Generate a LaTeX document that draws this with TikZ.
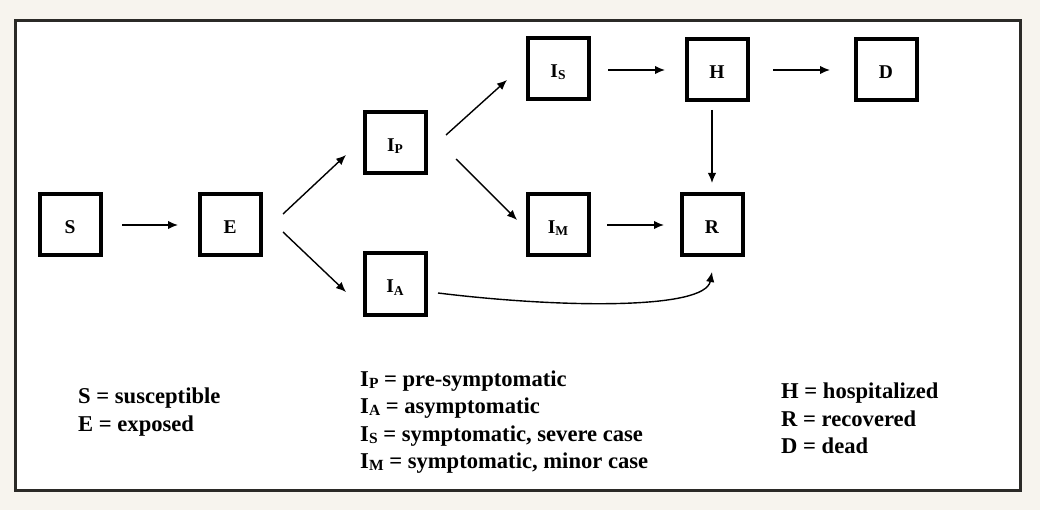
\documentclass[tikz,border=0pt]{standalone}
\usepackage{fontspec}
\setmainfont{Liberation Serif}
\usetikzlibrary{arrows.meta,calc}
\definecolor{bgbeige}{HTML}{F7F4EE}
\definecolor{framec}{HTML}{2B2A27}
\newcommand\bsub[1]{\raisebox{-2pt}{\fontsize{13.5}{13.5}\selectfont #1}}
\newcommand\lsub[1]{\raisebox{-2pt}{\fontsize{15.5}{15.5}\selectfont #1}}
\begin{document}
\begin{tikzpicture}[x=1pt,y=-1pt,
  box/.style={draw, line width=4pt, minimum size=61pt, inner sep=0pt, outer sep=0pt, text height=18pt, text depth=0pt, font=\fontsize{19.5}{19.5}\selectfont\bfseries},
  arr/.style={line width=1.4pt, -{Latex[length=10pt,width=8.5pt]}},
  leg/.style={anchor=base west, inner sep=0pt, font=\fontsize{22.6}{22.6}\selectfont\bfseries}]
\useasboundingbox (0,0) rectangle (1040,510);
\fill[bgbeige] (0,0) rectangle (1040,510);
\draw[framec, line width=3pt, fill=white] (15.5,20.5) rectangle (1020.5,490.5);
% boxes
\node[box] (S)  at (70,225)  {S};
\node[box] (E)  at (230,225) {E};
\node[box] (Ip) at (395,143) {I\bsub{P}};
\node[box] (IA) at (395,284) {I\bsub{A}};
\node[box] (IS) at (558,69)  {I\bsub{S}};
\node[box] (IM) at (558,225) {I\bsub{M}};
\node[box] (H)  at (717,70)  {H};
\node[box] (R)  at (712,225) {R};
\node[box] (D)  at (886,70)  {D};
% connectors
\draw[arr] ($(S.center)+(52,0)$) -- ($(E.center)+(-52,0)$);
\draw[arr] ($(E.center)+(53,-11)$) -- ($(Ip.center)+(-49,12)$);
\draw[arr] ($(E.center)+(53,7)$) -- ($(IA.center)+(-49,8)$);
\draw[arr] ($(Ip.center)+(51,-8)$) -- ($(IS.center)+(-51,11)$);
\draw[arr] ($(Ip.center)+(61,16)$) -- ($(IM.center)+(-41,-5)$);
\draw[arr] ($(IS.center)+(50,1)$) -- ($(H.center)+(-52,0)$);
\draw[arr] ($(H.center)+(56,0)$) -- ($(D.center)+(-56,0)$);
\draw[arr] ($(R.center)+(0,-115)$) -- ($(R.center)+(0,-42)$);
\draw[arr] ($(IM.center)+(49,0)$) -- ($(R.center)+(-48,0)$);
\draw[arr] ($(IA.center)+(43,9)$) .. controls (560,308) and (705,310) .. ($(R.center)+(0,47)$);
% legend
\node[leg] (l1) at (78,403) {S = susceptible};
\node[leg] (l2) at (78,431) {E = exposed};
\node[leg] (l3) at (360,386) {I\lsub{P} = pre-symptomatic};
\node[leg] (l4) at (360,413) {I\lsub{A} = asymptomatic};
\node[leg] (l5) at (360,441) {I\lsub{S} = symptomatic, severe case};
\node[leg] (l6) at (360,468) {I\lsub{M} = symptomatic, minor case};
\node[leg] (l7) at (781,398) {H = hospitalized};
\node[leg] (l8) at (781,426) {R = recovered};
\node[leg] (l9) at (781,453) {D = dead};
\end{tikzpicture}
\end{document}
